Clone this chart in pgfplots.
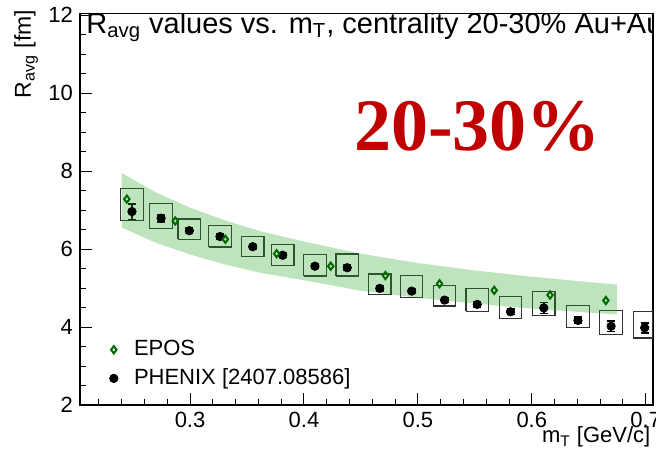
\documentclass[border=0pt]{standalone}
\usepackage{fontspec}
\setmainfont{Liberation Sans}
\newfontfamily\timesfont{Liberation Serif}
\usepackage{pgfplots}
\pgfplotsset{compat=1.18}
\usetikzlibrary{calc}
\definecolor{bandgreen}{RGB}{40,165,40}
\definecolor{eposgreen}{RGB}{0,105,0}
\definecolor{labelred}{RGB}{192,0,0}
\definecolor{boxgray}{RGB}{50,50,50}

\begin{document}
\begin{tikzpicture}
\begin{axis}[
  scale only axis, width=286.5pt, height=195.75pt,
  xmin=0.2034, xmax=0.7064, ymin=2, ymax=12.04,
  axis line style={black, line width=0.6pt},
  tick align=inside, tick pos=left,
  xtick={0.3,0.4,0.5,0.6,0.7}, xticklabels={0.3,0.4,0.5,0.6,0.7},
  minor xtick={0.22,0.24,0.26,0.28,0.32,0.34,0.36,0.38,0.42,0.44,0.46,0.48,0.52,0.54,0.56,0.58,0.62,0.64,0.66,0.68},
  ytick={2,4,6,8,10,12}, yticklabels={2,4,6,8,10,12},
  minor ytick={2.5,3,3.5,4.5,5,5.5,6.5,7,7.5,8.5,9,9.5,10.5,11,11.5},
  major tick length=6pt, minor tick length=3pt,
  tick style={black, line width=0.5pt},
  ticklabel style={font=\fontsize{11}{13}\selectfont},
  xlabel={m\textsubscript{T} [GeV/c]},
  xlabel style={at={(rel axis cs:0.996,-0.097)}, anchor=base east, inner sep=0pt, font=\fontsize{11}{13}\selectfont},
  ylabel={R\textsubscript{avg} [fm]},
  ylabel style={at={(rel axis cs:-0.0856,1.01)}, anchor=base east, inner sep=0pt, font=\fontsize{11.5}{13}\selectfont},
  legend style={at={(rel axis cs:0.0405,0.0223)}, anchor=south west, draw=none, fill=none,
    font=\fontsize{11}{13}\selectfont, row sep=1pt, column sep=6pt},
  legend cell align=left, reverse legend,
]
% systematic boxes
\addplot[boxgray, line width=0.6pt, unbounded coords=jump, forget plot] coordinates {
 (0.2391,6.73) (0.2589,6.73) (0.2589,7.56) (0.2391,7.56) (0.2391,6.73) (0.25,nan)
 (0.2647,6.52) (0.2845,6.52) (0.2845,7.17) (0.2647,7.17) (0.2647,6.52) (0.27,nan)
 (0.2895,6.25) (0.3093,6.25) (0.3093,6.77) (0.2895,6.77) (0.2895,6.25) (0.30,nan)
 (0.3164,6.05) (0.3362,6.05) (0.3362,6.60) (0.3164,6.60) (0.3164,6.05) (0.33,nan)
 (0.3451,5.80) (0.3649,5.80) (0.3649,6.32) (0.3451,6.32) (0.3451,5.80) (0.35,nan)
 (0.3714,5.58) (0.3912,5.58) (0.3912,6.11) (0.3714,6.11) (0.3714,5.58) (0.38,nan)
 (0.3997,5.31) (0.4195,5.31) (0.4195,5.85) (0.3997,5.85) (0.3997,5.31) (0.41,nan)
 (0.4281,5.31) (0.4479,5.31) (0.4479,5.87) (0.4281,5.87) (0.4281,5.31) (0.44,nan)
 (0.4566,4.84) (0.4764,4.84) (0.4764,5.36) (0.4566,5.36) (0.4566,4.84) (0.47,nan)
 (0.4846,4.75) (0.5044,4.75) (0.5044,5.32) (0.4846,5.32) (0.4846,4.75) (0.49,nan)
 (0.5135,4.54) (0.5333,4.54) (0.5333,5.07) (0.5135,5.07) (0.5135,4.54) (0.52,nan)
 (0.5422,4.40) (0.5620,4.40) (0.5620,4.99) (0.5422,4.99) (0.5422,4.40) (0.55,nan)
 (0.5714,4.21) (0.5912,4.21) (0.5912,4.78) (0.5714,4.78) (0.5714,4.21) (0.58,nan)
 (0.6006,4.29) (0.6204,4.29) (0.6204,4.92) (0.6006,4.92) (0.6006,4.29) (0.61,nan)
 (0.6306,3.98) (0.6504,3.98) (0.6504,4.56) (0.6306,4.56) (0.6306,3.98) (0.64,nan)
 (0.6597,3.80) (0.6795,3.80) (0.6795,4.43) (0.6597,4.43) (0.6597,3.80) (0.67,nan)
 (0.6892,3.72) (0.7064,3.72) (0.7064,4.40) (0.6892,4.40) (0.6892,3.72)
};
% PHENIX points
\addplot[only marks, mark=*, mark size=2.1pt, black,
  error bars/.cd, y dir=both, y explicit, error bar style={black, line width=0.8pt},
  error mark options={rotate=90, mark size=2pt, line width=0.8pt}]
  table[x=x, y=y, y error=e] {
x       y     e
0.2490  6.96  0.20
0.2746  6.79  0.09
0.2994  6.47  0.07
0.3263  6.32  0.07
0.3550  6.06  0.06
0.3813  5.84  0.06
0.4096  5.56  0.06
0.4380  5.52  0.07
0.4665  4.99  0.07
0.4945  4.92  0.06
0.5234  4.69  0.06
0.5521  4.58  0.07
0.5813  4.39  0.07
0.6105  4.49  0.14
0.6405  4.17  0.08
0.6696  4.02  0.13
0.6991  3.98  0.13
};
\addlegendentry{PHENIX [2407.08586]}
% EPOS band
\addplot[draw=none, fill=bandgreen, fill opacity=0.3, forget plot] coordinates {
 (0.240,7.95) (0.270,7.45) (0.300,7.06) (0.330,6.74) (0.360,6.47) (0.400,6.19)
 (0.450,5.88) (0.500,5.64) (0.550,5.45) (0.600,5.29) (0.650,5.15) (0.675,5.09)
 (0.675,4.32) (0.650,4.37) (0.600,4.47) (0.550,4.60) (0.500,4.75) (0.450,4.93)
 (0.400,5.20) (0.360,5.40) (0.330,5.61) (0.300,5.86) (0.270,6.16) (0.240,6.55)
} -- cycle;
% EPOS points
\addplot[only marks, mark=diamond, mark size=1.8pt, eposgreen, line width=1pt] coordinates {
 (0.2445,7.28) (0.2870,6.72) (0.3310,6.25) (0.3760,5.88) (0.4235,5.56)
 (0.4715,5.32) (0.5190,5.11) (0.5670,4.94) (0.6160,4.82) (0.6650,4.68)
};
\addlegendentry{EPOS}
\node[anchor=base west, inner sep=0pt, font=\fontsize{14.5}{16}\selectfont] at (rel axis cs:0.0105,0.9494)
  {R\textsubscript{avg} values vs. m\textsubscript{T}, centrality 20-30\% Au+Au};
\node[anchor=base, inner sep=0pt, text=labelred, font=\timesfont\bfseries\fontsize{37}{40}\selectfont] at (rel axis cs:0.694,0.649) {20-30\%};
\end{axis}
\pgfresetboundingbox
\path[use as bounding box] ($(current axis.south west)+(-40pt,-22.5pt)$) rectangle ($(current axis.north east)+(1.5pt,6.75pt)$);
\end{tikzpicture}
\end{document}
